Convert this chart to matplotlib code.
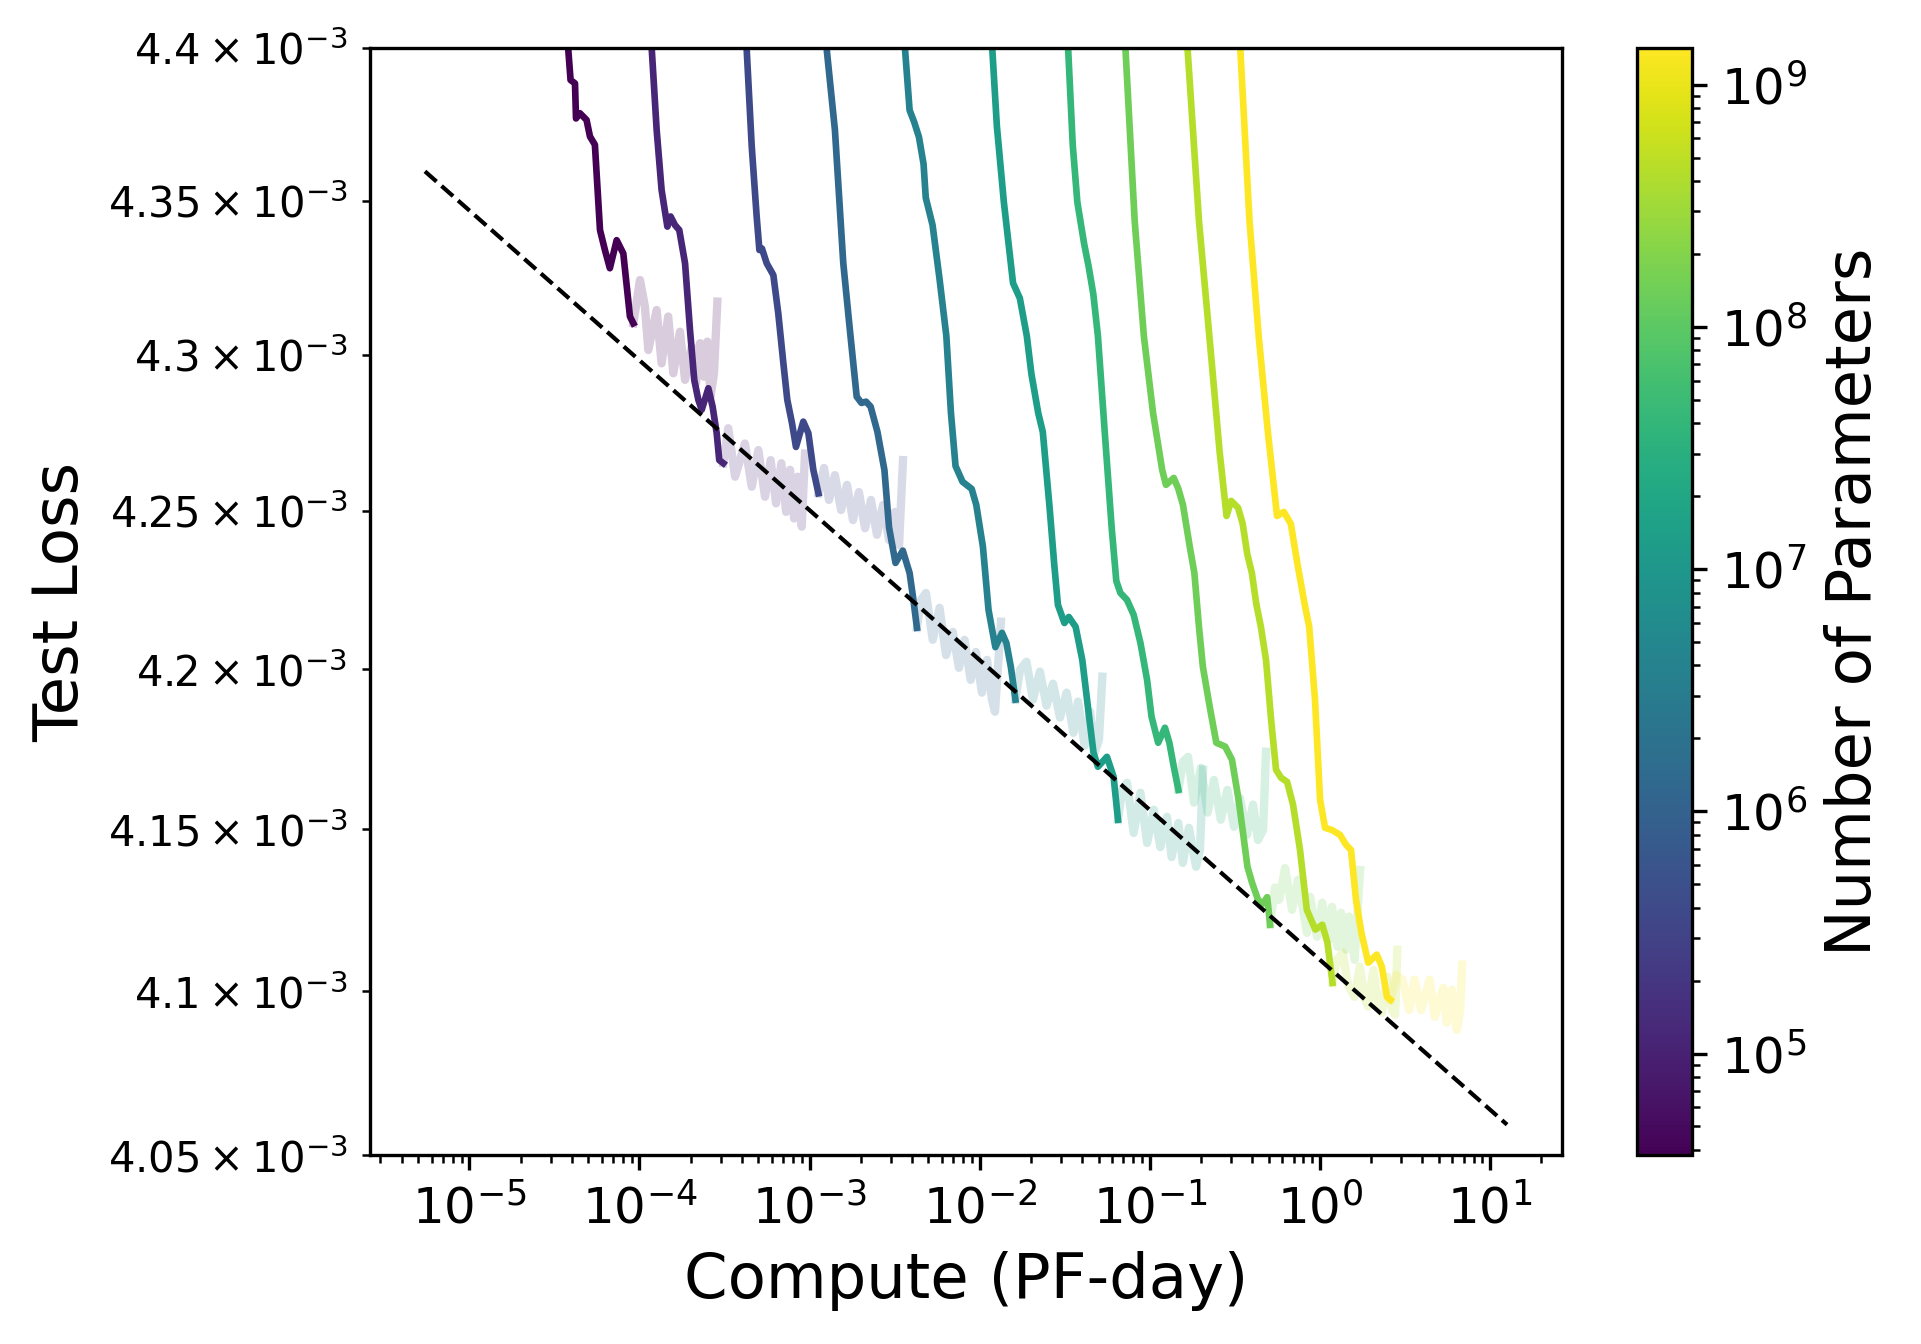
import numpy as np
import matplotlib.pyplot as plt
from matplotlib.colors import LogNorm
from matplotlib.cm import ScalarMappable

# model sizes (number of parameters), one run each
n_params = [3.8e4, 1.2e5, 3.9e5, 1.3e6, 4.1e6, 1.3e7, 4.2e7, 1.4e8, 4.4e8, 1.42e9]

# log10(compute in PF-day) and test loss (x 1e-3), part of each run down to the frontier
run_logc = [
    [-4.445, -4.419, -4.405, -4.379, -4.373, -4.350, -4.311, -4.291, -4.262, -4.232, -4.203, -4.174, -4.134, -4.095, -4.056, -4.036],
    [-3.950, -3.928, -3.899, -3.870, -3.850, -3.836, -3.817, -3.791, -3.766, -3.732, -3.703, -3.678, -3.654, -3.634, -3.595, -3.570, -3.546, -3.531, -3.507],
    [-3.387, -3.370, -3.340, -3.311, -3.295, -3.280, -3.252, -3.213, -3.184, -3.154, -3.131, -3.103, -3.080, -3.037, -3.007, -2.978, -2.948],
    [-2.921, -2.900, -2.851, -2.802, -2.763, -2.723, -2.695, -2.668, -2.641, -2.601, -2.560, -2.533, -2.495, -2.452, -2.412, -2.392, -2.369],
    [-2.451, -2.439, -2.412, -2.385, -2.357, -2.330, -2.317, -2.277, -2.236, -2.196, -2.169, -2.142, -2.101, -2.047, -2.020, -1.981, -1.948, -1.908, -1.869, -1.843, -1.817, -1.790],
    [-1.937, -1.926, -1.899, -1.858, -1.804, -1.764, -1.723, -1.696, -1.656, -1.629, -1.589, -1.561, -1.540, -1.502, -1.476, -1.436, -1.397, -1.357, -1.331, -1.305, -1.252, -1.213, -1.187],
    [-1.493, -1.480, -1.453, -1.426, -1.386, -1.359, -1.332, -1.305, -1.265, -1.224, -1.197, -1.173, -1.134, -1.095, -1.055, -1.016, -0.990, -0.951, -0.911, -0.885, -0.859, -0.832],
    [-1.155, -1.143, -1.089, -1.035, -0.981, -0.927, -0.905, -0.859, -0.832, -0.805, -0.765, -0.738, -0.711, -0.688, -0.648, -0.609, -0.557, -0.517, -0.478, -0.452, -0.426, -0.399, -0.364, -0.335, -0.310, -0.293],
    [-0.790, -0.778, -0.711, -0.630, -0.590, -0.549, -0.522, -0.481, -0.454, -0.427, -0.400, -0.374, -0.347, -0.317, -0.287, -0.258, -0.229, -0.193, -0.158, -0.117, -0.077, -0.027, 0.014, 0.044, 0.074],
    [-0.478, -0.468, -0.414, -0.360, -0.306, -0.252, -0.212, -0.171, -0.130, -0.090, -0.063, -0.029, 0.001, 0.030, 0.071, 0.118, 0.154, 0.183, 0.212, 0.244, 0.284, 0.334, 0.364, 0.394, 0.415],
]
run_loss = [
    [4.4197, 4.3998, 4.3894, 4.3883, 4.3768, 4.3785, 4.3763, 4.3709, 4.3682, 4.3404, 4.3339, 4.3280, 4.3371, 4.3328, 4.3124, 4.3102],
    [4.4197, 4.3998, 4.3731, 4.3535, 4.3464, 4.3415, 4.3448, 4.3420, 4.3404, 4.3296, 4.3081, 4.2920, 4.2856, 4.2824, 4.2893, 4.2834, 4.2749, 4.2663, 4.2653],
    [4.4197, 4.3998, 4.3676, 4.3448, 4.3339, 4.3344, 4.3296, 4.3258, 4.3134, 4.2973, 4.2856, 4.2780, 4.2705, 4.2786, 4.2749, 4.2632, 4.2557],
    [4.4191, 4.3999, 4.3730, 4.3297, 4.3080, 4.2866, 4.2846, 4.2850, 4.2834, 4.2753, 4.2631, 4.2449, 4.2336, 4.2375, 4.2304, 4.2228, 4.2131],
    [4.4191, 4.3996, 4.3795, 4.3756, 4.3707, 4.3619, 4.3509, 4.3420, 4.3245, 4.3061, 4.2814, 4.2644, 4.2594, 4.2571, 4.2520, 4.2387, 4.2187, 4.2070, 4.2115, 4.2083, 4.2008, 4.1905],
    [4.4191, 4.3996, 4.3743, 4.3495, 4.3232, 4.3183, 4.3061, 4.2939, 4.2814, 4.2753, 4.2511, 4.2326, 4.2203, 4.2146, 4.2165, 4.2134, 4.2030, 4.1852, 4.1739, 4.1695, 4.1726, 4.1664, 4.1530],
    [4.4191, 4.3996, 4.3681, 4.3495, 4.3359, 4.3284, 4.3196, 4.3061, 4.2753, 4.2447, 4.2279, 4.2241, 4.2219, 4.2172, 4.2083, 4.1967, 4.1852, 4.1770, 4.1817, 4.1770, 4.1695, 4.1623],
    [4.4191, 4.3996, 4.3434, 4.3061, 4.2814, 4.2631, 4.2584, 4.2606, 4.2571, 4.2520, 4.2387, 4.2304, 4.2134, 4.2008, 4.1883, 4.1770, 4.1758, 4.1717, 4.1592, 4.1489, 4.1384, 4.1335, 4.1282, 4.1270, 4.1290, 4.1205],
    [4.4191, 4.3996, 4.3434, 4.2939, 4.2692, 4.2485, 4.2533, 4.2511, 4.2460, 4.2364, 4.2304, 4.2206, 4.2134, 4.2030, 4.1842, 4.1686, 4.1661, 4.1648, 4.1577, 4.1436, 4.1251, 4.1190, 4.1205, 4.1150, 4.1026],
    [4.4191, 4.3996, 4.3434, 4.3061, 4.2753, 4.2485, 4.2498, 4.2460, 4.2326, 4.2206, 4.2134, 4.1905, 4.1592, 4.1505, 4.1498, 4.1483, 4.1452, 4.1436, 4.1282, 4.1180, 4.1088, 4.1113, 4.1076, 4.0983, 4.0974],
]

# rest of each run after the frontier (drawn faded)
tail_logc = [
    [-4.036, -3.997, -3.968, -3.948, -3.899, -3.870, -3.831, -3.801, -3.762, -3.732, -3.693, -3.668, -3.644, -3.621, -3.601, -3.582, -3.562, -3.542],
    [-3.507, -3.478, -3.438, -3.380, -3.340, -3.301, -3.262, -3.229, -3.197, -3.166, -3.138, -3.115, -3.091, -3.070, -3.046, -3.027],
    [-2.948, -2.915, -2.886, -2.851, -2.815, -2.780, -2.745, -2.710, -2.674, -2.639, -2.604, -2.568, -2.533, -2.498, -2.474, -2.451],
    [-2.369, -2.345, -2.316, -2.276, -2.236, -2.198, -2.158, -2.122, -2.089, -2.053, -2.022, -1.987, -1.957, -1.928, -1.910, -1.875],
    [-1.790, -1.763, -1.725, -1.687, -1.646, -1.607, -1.569, -1.528, -1.489, -1.449, -1.422, -1.383, -1.352, -1.322, -1.299, -1.279],
    [-1.187, -1.163, -1.134, -1.095, -1.055, -1.016, -0.976, -0.938, -0.899, -0.872, -0.832, -0.806, -0.770, -0.728, -0.705, -0.687],
    [-0.832, -0.805, -0.775, -0.740, -0.699, -0.660, -0.623, -0.583, -0.544, -0.505, -0.470, -0.429, -0.393, -0.364, -0.334, -0.317],
    [-0.293, -0.264, -0.240, -0.205, -0.164, -0.129, -0.076, -0.058, -0.017, 0.013, 0.054, 0.071, 0.104, 0.124, 0.154, 0.171, 0.204, 0.236],
    [0.074, 0.101, 0.134, 0.165, 0.204, 0.234, 0.265, 0.284, 0.314, 0.342, 0.364, 0.395, 0.424, 0.442, 0.455],
    [0.415, 0.448, 0.485, 0.525, 0.555, 0.595, 0.645, 0.675, 0.725, 0.745, 0.775, 0.805, 0.824, 0.836],
]
tail_loss = [
    [4.3102, 4.3242, 4.3156, 4.3016, 4.3145, 4.2973, 4.3124, 4.2941, 4.3075, 4.2920, 4.3027, 4.2909, 4.3038, 4.2930, 4.3043, 4.2867, 4.2941, 4.3172],
    [4.2653, 4.2765, 4.2610, 4.2716, 4.2578, 4.2695, 4.2546, 4.2663, 4.2525, 4.2653, 4.2498, 4.2632, 4.2477, 4.2610, 4.2451, 4.2684],
    [4.2557, 4.2638, 4.2536, 4.2615, 4.2504, 4.2584, 4.2472, 4.2561, 4.2446, 4.2536, 4.2425, 4.2520, 4.2409, 4.2498, 4.2393, 4.2663],
    [4.2131, 4.2219, 4.2241, 4.2093, 4.2194, 4.2045, 4.2118, 4.2005, 4.2093, 4.1967, 4.2055, 4.1927, 4.2030, 4.1905, 4.1867, 4.2150],
    [4.1905, 4.1999, 4.2024, 4.1905, 4.1993, 4.1886, 4.1955, 4.1849, 4.1927, 4.1801, 4.1899, 4.1761, 4.1868, 4.1742, 4.1780, 4.1977],
    [4.1530, 4.1623, 4.1645, 4.1489, 4.1614, 4.1458, 4.1561, 4.1445, 4.1539, 4.1414, 4.1520, 4.1396, 4.1505, 4.1384, 4.1436, 4.1686],
    [4.1623, 4.1711, 4.1726, 4.1583, 4.1692, 4.1552, 4.1654, 4.1530, 4.1623, 4.1508, 4.1598, 4.1483, 4.1577, 4.1467, 4.1498, 4.1742],
    [4.1205, 4.1320, 4.1282, 4.1380, 4.1251, 4.1344, 4.1180, 4.1291, 4.1168, 4.1273, 4.1159, 4.1260, 4.1137, 4.1242, 4.1128, 4.1230, 4.1097, 4.1374],
    [4.1026, 4.1097, 4.1119, 4.1020, 4.0983, 4.1076, 4.0974, 4.0953, 4.1066, 4.0959, 4.0934, 4.1045, 4.0943, 4.0928, 4.1128],
    [4.0974, 4.1051, 4.1036, 4.0943, 4.1036, 4.0943, 4.1036, 4.0922, 4.1011, 4.0904, 4.1005, 4.0882, 4.0943, 4.1082],
]

# compute-efficient frontier (power law), end points
frontier_logc = [-5.261, 1.100]
frontier_loss = [4.3595, 4.0593]

fig = plt.figure(figsize=(1921 / 300, 1344 / 300), dpi=300)
ax = fig.add_axes([370 / 1921, 1 - 1155.3 / 1344, 1192 / 1921, 1107.5 / 1344])
cax = fig.add_axes([1637 / 1921, 1 - 1155.3 / 1344, 55 / 1921, 1107.5 / 1344])

norm = LogNorm(vmin=min(n_params), vmax=max(n_params))
cmap = plt.get_cmap('viridis')

for i in range(len(n_params)):
    col = cmap(norm(n_params[i]))
    ax.plot(10 ** np.array(tail_logc[i]), np.array(tail_loss[i]) * 1e-3, color=col, alpha=0.2, lw=2)
    ax.plot(10 ** np.array(run_logc[i]), np.array(run_loss[i]) * 1e-3, color=col, lw=1.6)

ax.plot(10 ** np.array(frontier_logc), np.array(frontier_loss) * 1e-3, 'k--', lw=1)

ax.set_xscale('log')
ax.set_yscale('log')
ax.set_xlim(10 ** -5.584, 10 ** 1.423)
ax.set_ylim(4.05e-3, 4.4e-3)
ax.set_xlabel('Compute (PF-day)', fontsize=15)
ax.set_ylabel('Test Loss', fontsize=15)
ax.tick_params(which='major', labelsize=12)

sm = ScalarMappable(norm=norm, cmap=cmap)
cb = fig.colorbar(sm, cax=cax)
cb.set_label('Number of Parameters', fontsize=15)
cb.ax.tick_params(labelsize=12)

fig.savefig('out.png', dpi=300)
